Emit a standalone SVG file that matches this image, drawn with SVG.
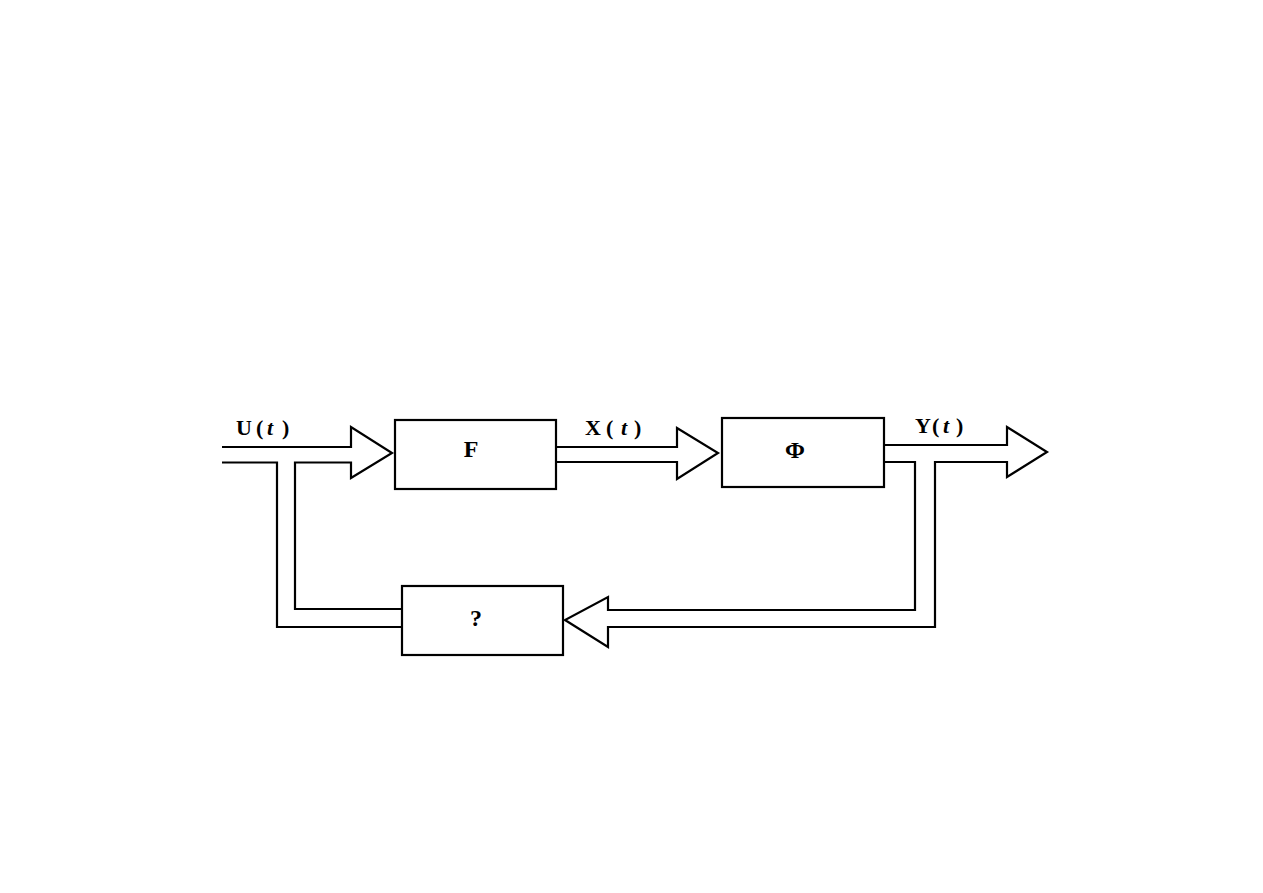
<svg xmlns="http://www.w3.org/2000/svg" width="1263" height="893" viewBox="0 0 1263 893">
<style>
.ln{fill:none;stroke:#000;stroke-width:2.2;stroke-linejoin:miter}
.box{fill:#fff;stroke:#000;stroke-width:2.2}
.lbl{font-family:"Liberation Serif",serif;font-weight:bold;font-size:22px;fill:#000}
.big{font-size:24px}
.it{font-style:italic}
</style>
<rect width="1263" height="893" fill="#fff"/>
<g id="connectors">
<polyline class="ln" points="222,447 351,447 351,427 392,453 351,478 351,462.5 295,462.5 295,609 401,609"/>
<polyline class="ln" points="222,462.5 277,462.5 277,627 401,627"/>
<polyline class="ln" points="556,447 677,447 677,428 718,453 677,479 677,462 556,462"/>
<polyline class="ln" points="884,445 1007,445 1007,427 1047,452 1007,477 1007,462 935,462 935,627 608,627 608,647 565,620 608,597 608,610 915,610 915,462 884,462"/>
</g>
<g id="label-u"><text class="lbl" x="236" y="435">U<tspan x="256">(</tspan><tspan class="it" x="267">t</tspan><tspan x="282">)</tspan></text></g>
<g id="label-x"><text class="lbl" x="585" y="435">X<tspan x="606">(</tspan><tspan class="it" x="621">t</tspan><tspan x="634">)</tspan></text></g>
<g id="label-y"><text class="lbl" x="915" y="433">Y<tspan x="932">(</tspan><tspan class="it" x="943">t</tspan><tspan x="956">)</tspan></text></g>
<g id="node-F"><rect class="box" x="395" y="420" width="161" height="69"/><text class="lbl big" x="471" y="457" text-anchor="middle">F</text></g>
<g id="node-Phi"><rect class="box" x="722" y="418" width="162" height="69"/><text class="lbl big" x="795" y="458" text-anchor="middle">Φ</text></g>
<g id="node-Q"><rect class="box" x="402" y="586" width="161" height="69"/><text class="lbl big" x="476" y="626" text-anchor="middle">?</text></g>
</svg>
